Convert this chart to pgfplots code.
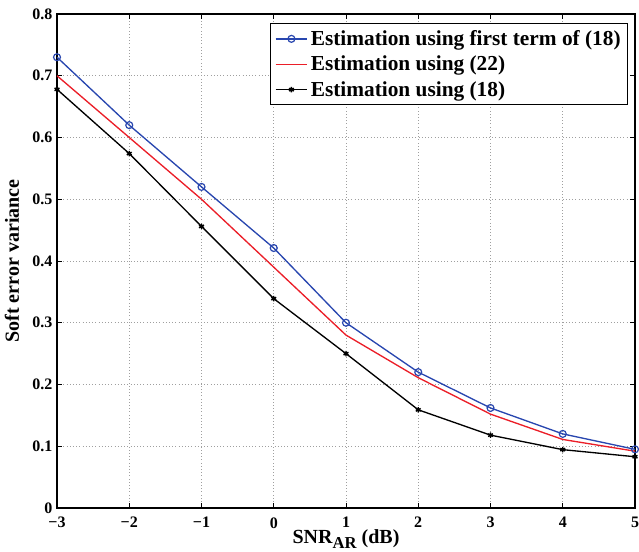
\documentclass[border=0pt]{standalone}
\usepackage{pgfplots}
\pgfplotsset{compat=1.18}
\usepackage{fontspec}
\setmainfont{Liberation Serif}
\definecolor{mblue}{RGB}{40,70,175}
\definecolor{mred}{RGB}{235,30,40}
\begin{document}
\begin{tikzpicture}
\begin{axis}[
  width=433.5pt, height=370.5pt, scale only axis,
  xmin=-3, xmax=5, ymin=0, ymax=0.8,
  xtick={-3,-2,-1,0,1,2,3,4,5},
  xticklabels={−3,−2,−1,0,1,2,3,4,5},
  ytick={0,0.1,0.2,0.3,0.4,0.5,0.6,0.7,0.8},
  yticklabels={0,0.1,0.2,0.3,0.4,0.5,0.6,0.7,0.8},
  tick align=inside,
  tick pos=both,
  major tick length=4pt,
  grid=major,
  major grid style={dotted, gray!75, line width=0.6pt},
  axis line style={line width=1pt},
  tick style={line width=0.6pt, black},
  ticklabel style={font=\bfseries\fontsize{12}{14}\selectfont},
  xticklabel style={yshift=-3.5pt},
  yticklabel style={xshift=0pt},
  label style={font=\bfseries\fontsize{15}{16}\selectfont},
  xlabel={SNR\raisebox{-3.5pt}{\fontsize{12.5}{12}\selectfont AR}\ (dB)},
  ylabel={Soft error variance},
  xlabel style={yshift=5.5pt},
  ylabel style={yshift=3pt},
  legend style={at={(rel axis cs:1,1)}, anchor=north east, xshift=-5.25pt, yshift=-6.75pt,
    draw=black, line width=1pt,
    font=\bfseries\fontsize{16}{18}\selectfont, row sep=2.4pt, inner xsep=3pt, inner ysep=3pt},
  legend cell align=left,
  legend image code/.code={\draw[mark repeat=2,mark phase=2,#1, line width=1.1pt] plot coordinates {(0cm,0cm) (0.42cm,0cm) (0.84cm,0cm)};},
]
\addplot[mblue, line width=1pt, mark=o, mark size=2.6pt, mark options={line width=0.9pt}] coordinates {
(-3,0.73) (-2,0.62) (-1,0.52) (0,0.421) (1,0.30) (2,0.22) (3,0.162) (4,0.12) (5,0.095)};
\addlegendentry{Estimation using first term of (18)}
\addplot[mred, line width=1pt] coordinates {
(-3,0.70) (-2,0.60) (-1,0.50) (0,0.39) (1,0.28) (2,0.211) (3,0.152) (4,0.111) (5,0.092)};
\addlegendentry{Estimation using (22)}
\addplot[black, line width=1pt, mark=asterisk, mark size=2.1pt, mark options={line width=1.1pt}] coordinates {
(-3,0.678) (-2,0.574) (-1,0.456) (0,0.339) (1,0.25) (2,0.159) (3,0.118) (4,0.0945) (5,0.083)};
\addlegendentry{Estimation using (18)}
\coordinate (bl) at (rel axis cs:0,0);
\coordinate (tr) at (rel axis cs:1,1);
\end{axis}
\pgfresetboundingbox
\path ([xshift=-42.75pt,yshift=-33pt]bl) rectangle ([xshift=3pt,yshift=10.5pt]tr);
\end{tikzpicture}
\end{document}
